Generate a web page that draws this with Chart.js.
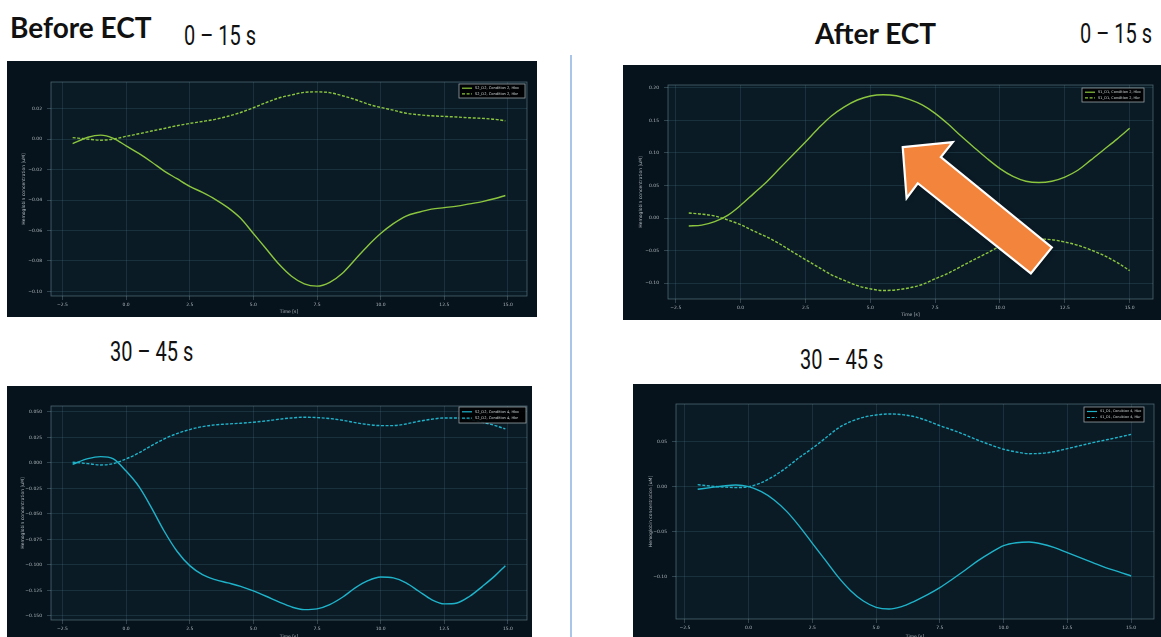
<!DOCTYPE html>
<html>
<head>
<meta charset="utf-8">
<script src="https://cdn.jsdelivr.net/npm/chart.js@4.4.1/dist/chart.umd.min.js"></script>
<style>
  html, body { margin: 0; padding: 0; background: #ffffff; width: 1161px; height: 637px; overflow: hidden; }
  body { position: relative; }
  .panel { position: absolute; background: #07131c; overflow: hidden; }
  .panel canvas { display: block; }
  .head { position: absolute; font-family: Lato, "Open Sans", sans-serif; font-weight: 700; font-size: 28px; color: #111; line-height: 1; white-space: nowrap; }
  .range { position: absolute; font-family: Roboto, sans-serif; font-size: 27px; color: #111; line-height: 1; white-space: nowrap; transform-origin: 0 0; transform: scaleX(0.74); }
  .divider { position: absolute; left: 570px; top: 55px; width: 2px; height: 582px; background: #a9c6ea; }
</style>
</head>
<body>
<div class="head" style="left:10px; top:13px;">Before ECT</div>
<div class="range" style="left:184px; top:23px;">0 – 15 s</div>
<div class="head" style="left:815px; top:19px;">After ECT</div>
<div class="range" style="left:1080px; top:21px;">0 – 15 s</div>
<div class="range" style="left:110px; top:339px;">30 – 45 s</div>
<div class="range" style="left:800px; top:347px;">30 – 45 s</div>
<div class="divider"></div>

<script>
// Sample times (s)
const timeBefore = [-2.1, -1.5, -1.0, -0.5, 0.0, 0.5, 1.0, 1.5, 2.0, 2.5, 3.0, 3.5, 4.0, 4.5, 5.0, 5.5, 6.0, 6.5, 7.0, 7.5,
  8.0, 8.5, 9.0, 9.5, 10.0, 10.5, 11.0, 11.5, 12.0, 12.5, 13.0, 13.5, 14.0, 14.5, 14.9];
const timeAfter = [-2.0, -1.5, -1.0, -0.5, 0.0, 0.5, 1.0, 1.5, 2.0, 2.5, 3.0, 3.5, 4.0, 4.5, 5.0, 5.5, 6.0, 6.5, 7.0, 7.5,
  8.0, 8.5, 9.0, 9.5, 10.0, 10.5, 11.0, 11.5, 12.0, 12.5, 13.0, 13.5, 14.0, 14.5, 15.0];

// Before ECT, 0–15 s (S2_D2, Condition 2)
const hboBefore0 = [-0.003, 0.0012, 0.0026, 0.0005, -0.0044, -0.0094, -0.015, -0.021, -0.026, -0.031, -0.035, -0.0395,
  -0.045, -0.052, -0.062, -0.072, -0.082, -0.090, -0.095, -0.0965, -0.094, -0.088, -0.079, -0.070, -0.062, -0.0555,
  -0.0505, -0.048, -0.046, -0.045, -0.044, -0.0425, -0.041, -0.039, -0.037];
const hbrBefore0 = [0.001, 0.0, -0.0007, 0.0, 0.0018, 0.0035, 0.0053, 0.007, 0.0088, 0.0103, 0.0116, 0.013, 0.015, 0.0175,
  0.0206, 0.024, 0.027, 0.029, 0.0307, 0.031, 0.0305, 0.0285, 0.026, 0.023, 0.0208, 0.019, 0.017, 0.016, 0.0153, 0.0149,
  0.0145, 0.014, 0.0136, 0.013, 0.012];

// After ECT, 0–15 s (S1_D1, Condition 2)
const hboAfter0 = [-0.0123, -0.011, -0.0057, 0.004, 0.0195, 0.0375, 0.0555, 0.076, 0.0967, 0.117, 0.138, 0.157, 0.171,
  0.1815, 0.1877, 0.1897, 0.188, 0.1825, 0.174, 0.161, 0.1445, 0.126, 0.1085, 0.0915, 0.076, 0.064, 0.0566, 0.0545,
  0.0566, 0.063, 0.0735, 0.089, 0.105, 0.121, 0.138];
const hbrAfter0 = [0.0077, 0.006, 0.003, -0.003, -0.0103, -0.020, -0.029, -0.0396, -0.052, -0.064, -0.0756, -0.0874,
  -0.096, -0.104, -0.109, -0.1116, -0.1105, -0.1075, -0.1023, -0.0936, -0.085, -0.0745, -0.064, -0.054, -0.0437,
  -0.0385, -0.0345, -0.0324, -0.0334, -0.037, -0.042, -0.049, -0.0576, -0.068, -0.081];

// Before ECT, 30–45 s (S2_D2, Condition 4)
const hboBefore30 = [-0.0013, 0.0042, 0.0062, 0.004, -0.008, -0.023, -0.044, -0.067, -0.0866, -0.1007, -0.1095, -0.1144,
  -0.1176, -0.121, -0.1255, -0.1307, -0.1363, -0.1412, -0.1438, -0.1431, -0.1389, -0.1317, -0.1225, -0.1154, -0.1118,
  -0.1127, -0.1176, -0.1258, -0.134, -0.1382, -0.1373, -0.1307, -0.121, -0.1105, -0.1007];
const hbrBefore30 = [0.0007, -0.0007, -0.002, -0.0007, 0.0039, 0.0098, 0.017, 0.0235, 0.0288, 0.0327, 0.0356, 0.0373,
  0.0382, 0.0389, 0.0399, 0.0412, 0.0428, 0.0441, 0.0448, 0.0444, 0.0435, 0.0418, 0.0395, 0.0376, 0.0366, 0.0366,
  0.0382, 0.0408, 0.0428, 0.0441, 0.0441, 0.0425, 0.0399, 0.0366, 0.0333];

// After ECT, 30–45 s (S1_D1, Condition 4)
const hboAfter30 = [-0.0026, -0.0007, 0.0011, 0.0022, 0.0004, -0.0052, -0.0144, -0.0274, -0.044, -0.0626, -0.081, -0.0996,
  -0.1152, -0.1267, -0.1337, -0.1356, -0.133, -0.127, -0.12, -0.1119, -0.1022, -0.0922, -0.0819, -0.073, -0.0652,
  -0.0619, -0.0611, -0.0633, -0.0674, -0.073, -0.0785, -0.0841, -0.0896, -0.094, -0.0989];
const hbrAfter30 = [0.0026, 0.0011, 0.0, -0.0007, 0.0004, 0.0048, 0.0122, 0.0219, 0.033, 0.043, 0.054, 0.0652, 0.0726,
  0.0774, 0.08, 0.0811, 0.0804, 0.0781, 0.0737, 0.0681, 0.0633, 0.0578, 0.0519, 0.0467, 0.0419, 0.0389, 0.037, 0.0374,
  0.0393, 0.0426, 0.0459, 0.0493, 0.0522, 0.0552, 0.0585];

// Tick positions
const timeTicks = [-2.5, 0.0, 2.5, 5.0, 7.5, 10.0, 12.5, 15.0];
const ticksBefore0 = [-0.10, -0.08, -0.06, -0.04, -0.02, 0.00, 0.02];
const ticksAfter0 = [-0.10, -0.05, 0.00, 0.05, 0.10, 0.15, 0.20];
const ticksBefore30 = [-0.150, -0.125, -0.100, -0.075, -0.050, -0.025, 0.000, 0.025, 0.050];
const ticksAfter30 = [-0.10, -0.05, 0.00, 0.05];

// Legend labels
const labelsBefore0 = ['S2_D2, Condition 2, Hbo', 'S2_D2, Condition 2, Hbr'];
const labelsAfter0 = ['S1_D1, Condition 2, Hbo', 'S1_D1, Condition 2, Hbr'];
const labelsBefore30 = ['S2_D2, Condition 4, Hbo', 'S2_D2, Condition 4, Hbr'];
const labelsAfter30 = ['S1_D1, Condition 4, Hbo', 'S1_D1, Condition 4, Hbr'];

// Orange call-out arrow outline, in (time, concentration) units of its chart
const arrowOutline = [[6.25, 0.109], [8.18, 0.1167], [7.72, 0.0936], [12.0, -0.0452], [11.19, -0.0853], [6.83, 0.0535], [6.40, 0.0304]];

const OUTER_BG = '#07131c';
const PLOT_BG = '#0a1b26';
const GRID = 'rgba(95,150,160,0.30)';
const FRAME = 'rgba(130,165,175,0.55)';
const TEXT = '#aeb8bc';
const GREEN = '#8cc63e';
const CYAN = '#1fb3ca';
const MINUS = '\u2212';

function fmt(v, d) {
  const r = Number(v.toFixed(d));
  return (r < 0 ? MINUS : '') + Math.abs(r).toFixed(d);
}

const backdrop = {
  id: 'backdrop',
  beforeDraw(chart) {
    const { ctx, chartArea: a } = chart;
    ctx.save();
    ctx.fillStyle = OUTER_BG;
    ctx.fillRect(0, 0, chart.width, chart.height);
    ctx.fillStyle = PLOT_BG;
    ctx.fillRect(a.left, a.top, a.right - a.left, a.bottom - a.top);
    ctx.restore();
  },
  afterDatasetsDraw(chart) {
    const { ctx, chartArea: a } = chart;
    ctx.save();
    ctx.strokeStyle = FRAME;
    ctx.lineWidth = 0.8;
    ctx.strokeRect(a.left, a.top, a.right - a.left, a.bottom - a.top);
    ctx.restore();
  }
};

const calloutArrow = {
  id: 'calloutArrow',
  afterDatasetsDraw(chart, args, opts) {
    if (!opts.points) return;
    const { ctx } = chart;
    const xs = chart.scales.x, ys = chart.scales.y;
    ctx.save();
    ctx.beginPath();
    opts.points.forEach((p, i) => {
      const px = xs.getPixelForValue(p[0]), py = ys.getPixelForValue(p[1]);
      if (i === 0) ctx.moveTo(px, py); else ctx.lineTo(px, py);
    });
    ctx.closePath();
    ctx.shadowColor = 'rgba(0,0,0,0.55)';
    ctx.shadowBlur = 4;
    ctx.shadowOffsetX = 1;
    ctx.shadowOffsetY = 1;
    ctx.fillStyle = '#f2843c';
    ctx.fill();
    ctx.shadowColor = 'transparent';
    ctx.lineJoin = 'miter';
    ctx.strokeStyle = '#ffffff';
    ctx.lineWidth = 2.2;
    ctx.stroke();
    ctx.restore();
  }
};

const boxLegend = {
  id: 'boxLegend',
  afterDraw(chart, args, opts) {
    const { ctx, chartArea: a } = chart;
    const w = opts.width, h = opts.height;
    const x0 = a.right - opts.insetRight - w, y0 = a.top + opts.insetTop;
    ctx.save();
    ctx.fillStyle = 'rgba(0,0,0,0.9)';
    ctx.fillRect(x0, y0, w, h);
    ctx.strokeStyle = 'rgba(190,198,200,0.8)';
    ctx.lineWidth = 0.8;
    ctx.strokeRect(x0, y0, w, h);
    chart.data.datasets.forEach((ds, i) => {
      const yy = y0 + h * (0.3 + 0.4 * i);
      ctx.strokeStyle = ds.borderColor;
      ctx.lineWidth = 1.2;
      ctx.setLineDash(ds.borderDash || []);
      ctx.beginPath();
      ctx.moveTo(x0 + 3, yy);
      ctx.lineTo(x0 + 13, yy);
      ctx.stroke();
      ctx.setLineDash([]);
      ctx.fillStyle = '#d2d8da';
      ctx.font = opts.fontSize + 'px "DejaVu Sans"';
      ctx.textBaseline = 'middle';
      ctx.fillText(ds.label, x0 + 16, yy);
    });
    ctx.restore();
  }
};

function makePanel(cfg) {
  const [bx, by, bw, bh] = cfg.box;
  const [fl, ft, fr, fb] = cfg.frame;
  const div = document.createElement('div');
  div.className = 'panel';
  div.style.left = bx + 'px';
  div.style.top = by + 'px';
  div.style.width = bw + 'px';
  div.style.height = bh + 'px';
  const cv = document.createElement('canvas');
  cv.width = bw;
  cv.height = bh;
  div.appendChild(cv);
  document.body.appendChild(div);

  const yW = fl - bx, xH = by + bh - fb;
  const tickFont = { family: 'DejaVu Sans', size: 4.5 };

  new Chart(cv, {
    type: 'line',
    data: {
      datasets: [
        { label: cfg.labels[0], data: cfg.time.map((t, i) => ({ x: t, y: cfg.hbo[i] })),
          borderColor: cfg.color, borderWidth: 1.4, pointRadius: 0, cubicInterpolationMode: 'monotone', fill: false },
        { label: cfg.labels[1], data: cfg.time.map((t, i) => ({ x: t, y: cfg.hbr[i] })),
          borderColor: cfg.color, borderWidth: 1.4, borderDash: [3, 1.6], pointRadius: 0, cubicInterpolationMode: 'monotone', fill: false }
      ]
    },
    options: {
      responsive: false,
      animation: false,
      devicePixelRatio: 1,
      layout: { padding: { left: 0, top: ft - by, right: bx + bw - fr, bottom: 0 } },
      plugins: {
        legend: { display: false },
        tooltip: { enabled: false },
        boxLegend: cfg.legend,
        calloutArrow: { points: cfg.arrow || null }
      },
      scales: {
        x: {
          type: 'linear',
          min: cfg.xLim[0], max: cfg.xLim[1],
          afterBuildTicks: s => { s.ticks = timeTicks.map(v => ({ value: v })); },
          afterFit: s => { s.height = xH; },
          ticks: { autoSkip: false, maxRotation: 0, color: TEXT, font: tickFont, padding: 2, callback: v => fmt(v, 1) },
          grid: { color: GRID, lineWidth: 0.6, tickLength: 4, tickColor: FRAME },
          border: { display: false },
          title: { display: true, text: 'Time [s]', color: TEXT, font: tickFont, padding: { top: 0, bottom: cfg.xTitlePad } }
        },
        y: {
          type: 'linear',
          min: cfg.yLim[0], max: cfg.yLim[1],
          afterBuildTicks: s => { s.ticks = cfg.yTicks.map(v => ({ value: v })); },
          afterFit: s => { s.width = yW; },
          ticks: { autoSkip: false, color: TEXT, font: tickFont, padding: 5, callback: v => fmt(v, cfg.yDigits) },
          grid: { color: GRID, lineWidth: 0.6, tickLength: 4, tickColor: FRAME },
          border: { display: false },
          title: { display: true, text: 'Hemoglobin concentration [uM]', color: TEXT, font: tickFont, padding: { top: cfg.yTitlePad, bottom: 0 } }
        }
      }
    },
    plugins: [backdrop, calloutArrow, boxLegend]
  });
}

makePanel({
  box: [7, 61, 530, 256], frame: [51, 82, 527, 296],
  time: timeBefore, hbo: hboBefore0, hbr: hbrBefore0, labels: labelsBefore0, color: GREEN,
  xLim: [-2.95, 15.75], yLim: [-0.1030, 0.0375], yTicks: ticksBefore0, yDigits: 2,
  xTitlePad: 2.3, yTitlePad: 14.5,
  legend: { width: 66, height: 14, insetRight: 2, insetTop: 2, fontSize: 3.6 }
});

makePanel({
  box: [623, 65, 538, 255], frame: [668, 85, 1153, 299],
  time: timeAfter, hbo: hboAfter0, hbr: hbrAfter0, labels: labelsAfter0, color: GREEN,
  xLim: [-2.8, 15.9], yLim: [-0.1246, 0.2046], yTicks: ticksAfter0, yDigits: 2,
  xTitlePad: 2.3, yTitlePad: 15,
  legend: { width: 62, height: 14, insetRight: 9, insetTop: 3, fontSize: 3.5 },
  arrow: arrowOutline
});

makePanel({
  box: [7, 386, 525, 260], frame: [51, 406, 527, 620],
  time: timeBefore, hbo: hboBefore30, hbr: hbrBefore30, labels: labelsBefore30, color: CYAN,
  xLim: [-2.95, 15.75], yLim: [-0.1540, 0.0558], yTicks: ticksBefore30, yDigits: 3,
  xTitlePad: 6.3, yTitlePad: 12.7,
  legend: { width: 67, height: 16, insetRight: 1, insetTop: 1, fontSize: 3.6 }
});

makePanel({
  box: [633, 384, 528, 262], frame: [676, 404, 1154, 619],
  time: timeAfter, hbo: hboAfter30, hbr: hbrAfter30, labels: labelsAfter30, color: CYAN,
  xLim: [-2.85, 15.9], yLim: [-0.1467, 0.0922], yTicks: ticksAfter30, yDigits: 2,
  xTitlePad: 6.6, yTitlePad: 15,
  legend: { width: 60, height: 15, insetRight: 10, insetTop: 3, fontSize: 3.4 }
});
</script>
</body>
</html>
